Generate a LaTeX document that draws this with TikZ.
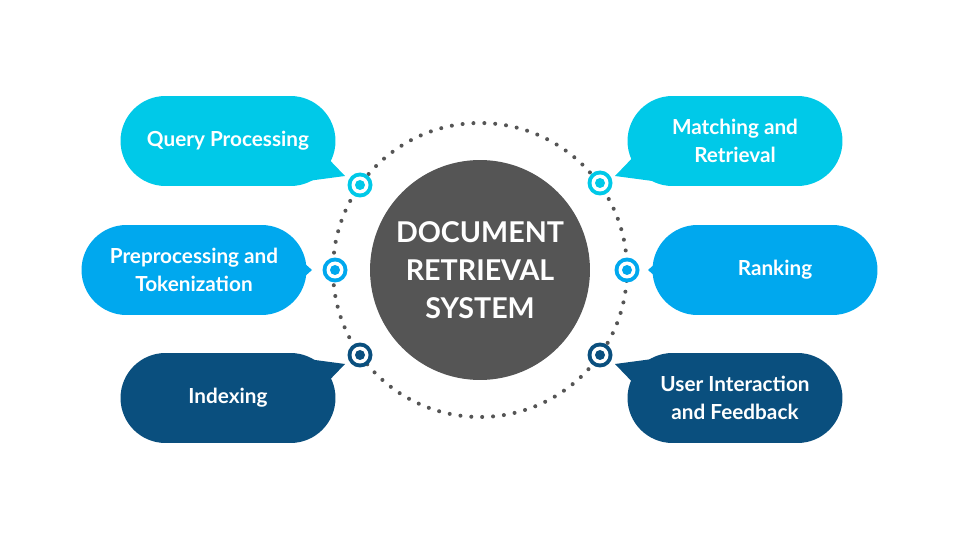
\documentclass[tikz,border=0pt]{standalone}
\usepackage{fontspec}
\setmainfont{Lato}
\usetikzlibrary{shapes.misc}
\definecolor{cyanA}{RGB}{0,201,232}
\definecolor{blueB}{RGB}{0,168,238}
\definecolor{navyC}{RGB}{10,79,126}
\definecolor{hubgray}{RGB}{85,85,85}
\tikzset{
  bubble/.style={rounded rectangle, minimum width=4.3cm, minimum height=1.8cm,
    text=white, font=\fontsize{11.8}{16}\selectfont\bfseries, align=center, inner sep=0pt},
  marker/.style={circle, fill=#1, minimum size=0.5cm, inner sep=0pt,
    path picture={\fill[white] (path picture bounding box.center) circle (0.17cm);
                  \fill[#1] (path picture bounding box.center) circle (0.1cm);}}
}
\begin{document}
\begin{tikzpicture}[x=0.02cm,y=-0.02cm]
\useasboundingbox (0,0) rectangle (960,540);
% dotted ring and hub
\draw[hubgray, line width=2.3pt, line cap=round, dash pattern=on 0pt off 6.2pt] (480,270) circle (147);
\node[circle, fill=hubgray, minimum size=4.4cm, text=white, align=center,
  font=\fontsize{16.3}{21.5}\selectfont\bfseries] (hub) at (480,270) {DOCUMENT\\RETRIEVAL\\SYSTEM};

% -------- left side ---------
\fill[cyanA] (320,150) -- (345,176) -- (300,182) -- cycle;
\fill[blueB] (295,255) -- (312,270) -- (295,285) -- cycle;
\fill[navyC] (320,390) -- (345,364) -- (300,358) -- cycle;
\node[bubble, fill=cyanA] (query) at (228,141) {Query Processing};
\node[bubble, fill=blueB, minimum width=4.5cm] (prep) at (194,270) {Preprocessing and\\Tokenization};
\node[bubble, fill=navyC] (index) at (228,398) {Indexing};
\node[marker=cyanA] (m1) at (360,185) {};
\node[marker=blueB] (m2) at (335,270) {};
\node[marker=navyC] (m3) at (360,355) {};

% -------- right side ---------
\fill[cyanA] (640,150) -- (615,176) -- (660,182) -- cycle;
\fill[blueB] (665,255) -- (648,270) -- (665,285) -- cycle;
\fill[navyC] (640,390) -- (615,364) -- (660,358) -- cycle;
\node[bubble, fill=cyanA] (match) at (735,141) {Matching and\\Retrieval};
\node[bubble, fill=blueB, minimum width=4.5cm] (rank) at (765,270) {\hspace*{0.4cm}Ranking};
\node[bubble, fill=navyC] (user) at (735,398) {User Interaction\\and Feedback};
\node[marker=cyanA] (m4) at (600,183) {};
\node[marker=blueB] (m5) at (627,270) {};
\node[marker=navyC] (m6) at (600,355) {};
\end{tikzpicture}
\end{document}
